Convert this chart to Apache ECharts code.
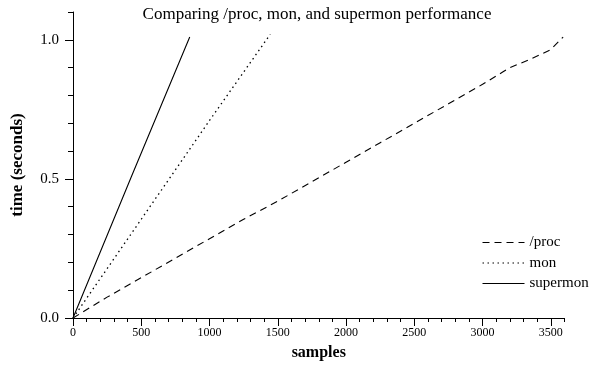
<!DOCTYPE html>
<html>
<head>
<meta charset="utf-8">
<script src="https://cdn.jsdelivr.net/npm/echarts@6/dist/echarts.min.js"></script>
<style>html,body{margin:0;padding:0;background:#fff;}#c{width:596px;height:366px;}</style>
</head>
<body>
<div id="c"></div>
<script>
var titleText = 'Comparing /proc, mon, and supermon performance';
var xName = 'samples';
var yName = 'time (seconds)';
var seriesNames = ['/proc', 'mon', 'supermon'];

var procX = [0, 250, 500, 750, 1000, 1250, 1500, 1750, 2000, 2250, 2500, 2750, 3000, 3150, 3200, 3350, 3500, 3590];
var procY = [0, 0.075, 0.145, 0.215, 0.285, 0.355, 0.42, 0.49, 0.56, 0.63, 0.70, 0.77, 0.84, 0.885, 0.90, 0.93, 0.965, 1.01];
var monX = [0, 500, 1000, 1445];
var monY = [0, 0.355, 0.71, 1.02];
var superX = [0, 425, 855];
var superY = [0, 0.505, 1.01];

var xMajorTicks = [0, 500, 1000, 1500, 2000, 2500, 3000, 3500];
var xMinorTicks = [];
for (var i = 0; i <= 3600; i += 100) xMinorTicks.push(i);
var yMajorTicks = [0, 0.5, 1.0];
var yMinorTicks = [0, 0.1, 0.2, 0.3, 0.4, 0.5, 0.6, 0.7, 0.8, 0.9, 1.0, 1.1];

function zip(a, b) { return a.map(function (v, i) { return [v, b[i]]; }); }

var serif = "'Liberation Serif', 'Times New Roman', serif";
var grid = { left: 73, right: 31.5, top: 12, bottom: 46.5 };

var chart = echarts.init(document.getElementById('c'), null, { renderer: 'canvas' });
chart.setOption({
  animation: false,
  backgroundColor: '#fff',
  title: {
    text: titleText, left: 317, top: 6, textAlign: 'center', padding: 0,
    textStyle: { fontFamily: serif, fontSize: 17, fontWeight: 'normal', color: '#000' }
  },
  legend: {
    orient: 'vertical', left: 482, top: 235, padding: 0,
    itemWidth: 42, itemHeight: 14, itemGap: 5.5,
    itemStyle: { opacity: 0 },
    lineStyle: { width: 1 },
    textStyle: { fontFamily: serif, fontSize: 15, color: '#000' },
    data: seriesNames
  },
  grid: grid,
  xAxis: [{
    type: 'value', min: 0, max: 3600,
    name: xName, nameLocation: 'middle', nameGap: 27,
    nameTextStyle: { fontFamily: serif, fontSize: 16, fontWeight: 'bold', color: '#000' },
    axisLine: { show: true, lineStyle: { color: '#000', width: 1 } },
    axisTick: { show: true, inside: false, length: 8, customValues: xMajorTicks, lineStyle: { color: '#000' } },
    axisLabel: { customValues: xMajorTicks, margin: 9, fontFamily: serif, fontSize: 12, color: '#000',
      formatter: function (v) { return String(v); } },
    splitLine: { show: false }
  }, {
    type: 'value', min: 0, max: 3600, position: 'bottom',
    axisLine: { show: false },
    axisTick: { show: true, inside: false, length: 4, customValues: xMinorTicks, lineStyle: { color: '#000' } },
    axisLabel: { show: false },
    splitLine: { show: false }
  }],
  yAxis: [{
    type: 'value', min: 0, max: 1.1,
    name: yName, nameLocation: 'middle', nameGap: 47,
    nameTextStyle: { fontFamily: serif, fontSize: 17, fontWeight: 'bold', color: '#000' },
    axisLine: { show: true, lineStyle: { color: '#000', width: 1 } },
    axisTick: { show: true, inside: false, length: 8, customValues: yMajorTicks, lineStyle: { color: '#000' } },
    axisLabel: { customValues: yMajorTicks, margin: 14, fontFamily: serif, fontSize: 15, color: '#000',
      formatter: function (v) { return v.toFixed(1); } },
    splitLine: { show: false }
  }, {
    type: 'value', min: 0, max: 1.1, position: 'left',
    axisLine: { show: false },
    axisTick: { show: true, inside: false, length: 5, customValues: yMinorTicks, lineStyle: { color: '#000' } },
    axisLabel: { show: false },
    splitLine: { show: false }
  }],
  series: [{
    name: seriesNames[0], type: 'line', symbol: 'none', data: zip(procX, procY),
    lineStyle: { color: '#000', width: 1.1, type: [7, 5] }, itemStyle: { color: '#000' }
  }, {
    name: seriesNames[1], type: 'line', symbol: 'none', data: zip(monX, monY),
    lineStyle: { color: '#000', width: 1.3, type: [1.5, 3.5] }, itemStyle: { color: '#000' }
  }, {
    name: seriesNames[2], type: 'line', symbol: 'none', data: zip(superX, superY),
    lineStyle: { color: '#000', width: 1.1, type: 'solid' }, itemStyle: { color: '#000' }
  }]
});
</script>
</body>
</html>
